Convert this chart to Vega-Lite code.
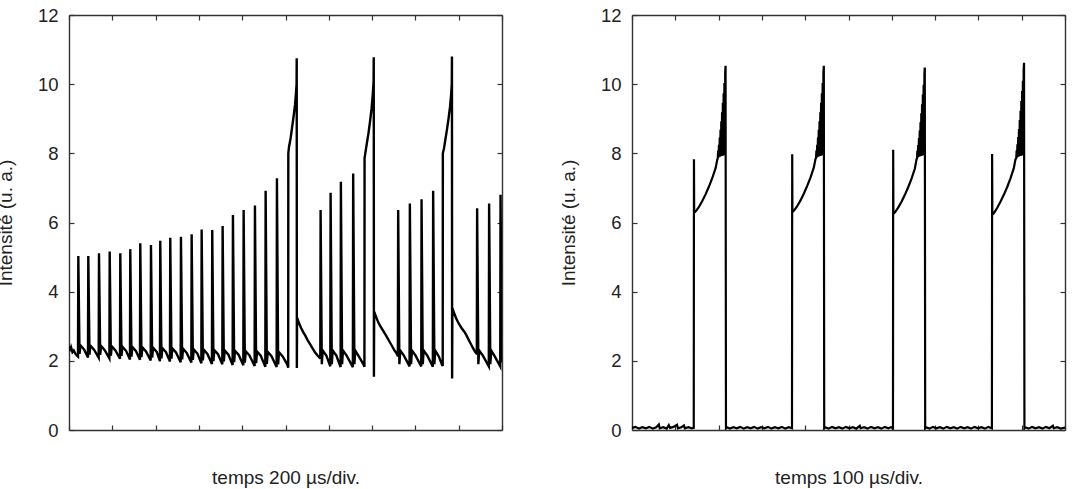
{
  "$schema": "https://vega.github.io/schema/vega-lite/v6.json",
  "background": "white",
  "padding": {"left": -4, "top": 6, "right": 4, "bottom": 0},
  "spacing": 56,
  "datasets": {
    "train": [
      {"t": 0, "v": 2.32}, {"t": 3, "v": 2.42}, {"t": 6, "v": 2.28}, {"t": 10, "v": 2.38}, {"t": 16, "v": 2.25}, {"t": 22, "v": 2.3}, {"t": 30, "v": 2.2}, {"t": 38, "v": 2.14},
      {"t": 41.6, "v": 2.12}, {"t": 43.0, "v": 5.03}, {"t": 48.6, "v": 2.2}, {"t": 52.6, "v": 2.45}, {"t": 69.6, "v": 2.33},
      {"t": 87.7, "v": 2.10}, {"t": 89.1, "v": 5.03}, {"t": 94.7, "v": 2.18}, {"t": 98.7, "v": 2.44}, {"t": 115.7, "v": 2.32},
      {"t": 137.1, "v": 2.09}, {"t": 138.5, "v": 5.11}, {"t": 144.1, "v": 2.17}, {"t": 148.1, "v": 2.43}, {"t": 165.1, "v": 2.31},
      {"t": 186.5, "v": 2.07}, {"t": 187.9, "v": 5.16}, {"t": 193.5, "v": 2.15}, {"t": 197.5, "v": 2.42}, {"t": 214.5, "v": 2.30},
      {"t": 235.5, "v": 2.06}, {"t": 236.9, "v": 5.11}, {"t": 242.5, "v": 2.14}, {"t": 246.5, "v": 2.41}, {"t": 263.5, "v": 2.29},
      {"t": 281.6, "v": 2.04}, {"t": 283.0, "v": 5.23}, {"t": 288.6, "v": 2.12}, {"t": 292.6, "v": 2.40}, {"t": 309.6, "v": 2.28},
      {"t": 327.8, "v": 2.03}, {"t": 329.2, "v": 5.40}, {"t": 334.8, "v": 2.11}, {"t": 338.8, "v": 2.39}, {"t": 355.8, "v": 2.27},
      {"t": 377.2, "v": 2.01}, {"t": 378.6, "v": 5.35}, {"t": 384.2, "v": 2.09}, {"t": 388.2, "v": 2.38}, {"t": 405.2, "v": 2.26},
      {"t": 420.1, "v": 1.99}, {"t": 421.5, "v": 5.47}, {"t": 427.1, "v": 2.07}, {"t": 431.1, "v": 2.37}, {"t": 448.1, "v": 2.25},
      {"t": 466.3, "v": 1.98}, {"t": 467.7, "v": 5.56}, {"t": 473.3, "v": 2.06}, {"t": 477.3, "v": 2.36}, {"t": 494.3, "v": 2.24},
      {"t": 515.7, "v": 1.96}, {"t": 517.1, "v": 5.59}, {"t": 522.7, "v": 2.04}, {"t": 526.7, "v": 2.35}, {"t": 543.7, "v": 2.23},
      {"t": 565.1, "v": 1.95}, {"t": 566.5, "v": 5.66}, {"t": 572.1, "v": 2.03}, {"t": 576.1, "v": 2.33}, {"t": 593.1, "v": 2.21},
      {"t": 611.3, "v": 1.93}, {"t": 612.7, "v": 5.80}, {"t": 618.3, "v": 2.01}, {"t": 622.3, "v": 2.32}, {"t": 639.3, "v": 2.20},
      {"t": 660.2, "v": 1.91}, {"t": 661.6, "v": 5.78}, {"t": 667.2, "v": 1.99}, {"t": 671.2, "v": 2.31}, {"t": 688.2, "v": 2.19},
      {"t": 708.2, "v": 1.90}, {"t": 709.6, "v": 5.90}, {"t": 715.2, "v": 1.98}, {"t": 719.2, "v": 2.30}, {"t": 736.2, "v": 2.18},
      {"t": 755.8, "v": 1.88}, {"t": 757.2, "v": 6.22}, {"t": 762.8, "v": 1.96}, {"t": 766.8, "v": 2.29}, {"t": 783.8, "v": 2.17},
      {"t": 805.2, "v": 1.87}, {"t": 806.6, "v": 6.36}, {"t": 812.2, "v": 1.95}, {"t": 816.2, "v": 2.28}, {"t": 833.2, "v": 2.16},
      {"t": 857.4, "v": 1.85}, {"t": 858.8, "v": 6.49}, {"t": 864.4, "v": 1.93}, {"t": 868.4, "v": 2.27}, {"t": 885.4, "v": 2.15},
      {"t": 906.8, "v": 1.83}, {"t": 908.2, "v": 6.92}, {"t": 913.8, "v": 1.91}, {"t": 917.8, "v": 2.26}, {"t": 934.8, "v": 2.14},
      {"t": 959.0, "v": 1.82}, {"t": 960.4, "v": 7.28}, {"t": 966.0, "v": 1.90}, {"t": 970.0, "v": 2.25}, {"t": 987.0, "v": 2.13},
      {"t": 1008.0, "v": 1.9}, {"t": 1012.5, "v": 1.8}, {"t": 1013.0, "v": 8.0}, {"t": 1016.3, "v": 8.19}, {"t": 1024.0, "v": 8.45}, {"t": 1031.5, "v": 8.8}, {"t": 1038.0, "v": 9.1}, {"t": 1044.0, "v": 9.4}, {"t": 1048.5, "v": 9.75}, {"t": 1051.2, "v": 10.0}, {"t": 1051.8, "v": 10.75}, {"t": 1052.4, "v": 1.79}, {"t": 1053.4, "v": 3.25},
      {"t": 1062, "v": 3.1}, {"t": 1072, "v": 2.95}, {"t": 1082, "v": 2.83}, {"t": 1092, "v": 2.72}, {"t": 1102, "v": 2.6}, {"t": 1112, "v": 2.5}, {"t": 1123, "v": 2.38}, {"t": 1136, "v": 2.25}, {"t": 1150, "v": 2.14}, {"t": 1159.5, "v": 2.08},
      {"t": 1160.7, "v": 2.06}, {"t": 1162.1, "v": 6.36}, {"t": 1167.7, "v": 1.9}, {"t": 1171.7, "v": 2.3}, {"t": 1188.7, "v": 2.15},
      {"t": 1206.9, "v": 1.84}, {"t": 1208.3, "v": 6.86}, {"t": 1213.9, "v": 1.9}, {"t": 1217.9, "v": 2.3}, {"t": 1234.9, "v": 2.15},
      {"t": 1254.4, "v": 1.82}, {"t": 1255.8, "v": 7.18}, {"t": 1261.4, "v": 1.9}, {"t": 1265.4, "v": 2.3}, {"t": 1282.4, "v": 2.15},
      {"t": 1311.2, "v": 1.82}, {"t": 1312.6, "v": 7.42}, {"t": 1318.2, "v": 1.9}, {"t": 1322.2, "v": 2.3}, {"t": 1339.2, "v": 2.12},
      {"t": 1360.0, "v": 1.9}, {"t": 1364.6, "v": 1.83}, {"t": 1365.2, "v": 7.86}, {"t": 1369.0, "v": 8.02}, {"t": 1376.0, "v": 8.3}, {"t": 1383.7, "v": 8.6}, {"t": 1391.0, "v": 8.95}, {"t": 1397.6, "v": 9.3}, {"t": 1403.0, "v": 9.7}, {"t": 1406.8, "v": 10.05}, {"t": 1407.6, "v": 10.78}, {"t": 1408.4, "v": 1.54}, {"t": 1409.6, "v": 3.42},
      {"t": 1418, "v": 3.28}, {"t": 1428, "v": 3.12}, {"t": 1438, "v": 3.0}, {"t": 1450, "v": 2.88}, {"t": 1465.4, "v": 2.72}, {"t": 1478, "v": 2.58}, {"t": 1490, "v": 2.45}, {"t": 1502, "v": 2.32}, {"t": 1512, "v": 2.22}, {"t": 1518.4, "v": 2.15},
      {"t": 1519.0, "v": 2.12}, {"t": 1520.4, "v": 6.36}, {"t": 1526.0, "v": 1.9}, {"t": 1530.0, "v": 2.3}, {"t": 1547.0, "v": 2.15},
      {"t": 1573.0, "v": 1.84}, {"t": 1574.4, "v": 6.55}, {"t": 1580.0, "v": 1.9}, {"t": 1584.0, "v": 2.3}, {"t": 1601.0, "v": 2.15},
      {"t": 1627.0, "v": 1.84}, {"t": 1628.4, "v": 6.67}, {"t": 1634.0, "v": 1.9}, {"t": 1638.0, "v": 2.3}, {"t": 1655.0, "v": 2.15},
      {"t": 1680.6, "v": 1.83}, {"t": 1682.0, "v": 6.92}, {"t": 1687.6, "v": 1.9}, {"t": 1691.6, "v": 2.3}, {"t": 1708.6, "v": 2.12},
      {"t": 1722.0, "v": 1.9}, {"t": 1726.2, "v": 1.85}, {"t": 1726.8, "v": 8.0}, {"t": 1732.3, "v": 8.15}, {"t": 1739.0, "v": 8.42}, {"t": 1746.1, "v": 8.7}, {"t": 1753.0, "v": 9.0}, {"t": 1760.0, "v": 9.35}, {"t": 1765.0, "v": 9.7}, {"t": 1768.0, "v": 10.0}, {"t": 1768.8, "v": 10.8}, {"t": 1769.6, "v": 1.49}, {"t": 1770.8, "v": 3.52},
      {"t": 1780, "v": 3.36}, {"t": 1790, "v": 3.2}, {"t": 1800, "v": 3.08}, {"t": 1813, "v": 2.95}, {"t": 1825, "v": 2.85}, {"t": 1834.8, "v": 2.75}, {"t": 1845, "v": 2.62}, {"t": 1855, "v": 2.5}, {"t": 1865, "v": 2.38}, {"t": 1875, "v": 2.27}, {"t": 1883.0, "v": 2.2},
      {"t": 1883.7, "v": 2.18}, {"t": 1885.1, "v": 6.41}, {"t": 1890.7, "v": 1.9}, {"t": 1894.7, "v": 2.3}, {"t": 1911.7, "v": 2.15},
      {"t": 1939.1, "v": 1.84}, {"t": 1940.5, "v": 6.55}, {"t": 1946.1, "v": 1.9}, {"t": 1950.1, "v": 2.3}, {"t": 1967.1, "v": 2.12},
      {"t": 1991.8, "v": 1.84}, {"t": 1993.2, "v": 6.80}, {"t": 1998.8, "v": 1.95}, {"t": 2000, "v": 2.05}
    ],
    "pulses": [
      {"t": 0, "v": 0.06}, {"t": 8, "v": 0.09}, {"t": 16, "v": 0.04}, {"t": 24, "v": 0.08}, {"t": 32, "v": 0.05}, {"t": 40, "v": 0.09}, {"t": 48, "v": 0.04}, {"t": 56, "v": 0.08}, {"t": 62, "v": 0.16}, {"t": 64, "v": 0.05}, {"t": 72, "v": 0.08}, {"t": 80, "v": 0.04}, {"t": 85, "v": 0.14}, {"t": 88, "v": 0.06}, {"t": 96, "v": 0.09}, {"t": 104, "v": 0.15}, {"t": 106, "v": 0.05}, {"t": 114, "v": 0.08}, {"t": 120, "v": 0.13}, {"t": 122, "v": 0.05}, {"t": 130, "v": 0.08}, {"t": 138, "v": 0.05}, {"t": 142.6, "v": 0.06},
      {"t": 143.1, "v": 7.83}, {"t": 143.6, "v": 6.28}, {"t": 147.7, "v": 6.33}, {"t": 154.6, "v": 6.45}, {"t": 162.3, "v": 6.62}, {"t": 170.1, "v": 6.82}, {"t": 177.7, "v": 7.04}, {"t": 185.3, "v": 7.28}, {"t": 193.2, "v": 7.58}, {"t": 196.9, "v": 7.82},
      {"t": 198.1, "v": 7.86}, {"t": 199.0, "v": 8.08}, {"t": 199.9, "v": 7.88}, {"t": 200.8, "v": 8.25}, {"t": 201.7, "v": 7.9}, {"t": 202.6, "v": 8.46}, {"t": 203.5, "v": 7.9}, {"t": 204.4, "v": 8.68}, {"t": 205.3, "v": 7.92}, {"t": 206.2, "v": 8.93}, {"t": 207.1, "v": 7.92}, {"t": 208.0, "v": 9.19}, {"t": 208.9, "v": 7.93}, {"t": 209.8, "v": 9.46}, {"t": 210.7, "v": 7.94}, {"t": 211.6, "v": 9.74}, {"t": 212.5, "v": 7.95}, {"t": 213.4, "v": 10.03}, {"t": 214.3, "v": 7.95}, {"t": 215.2, "v": 10.34}, {"t": 216.1, "v": 10.53}, {"t": 217.0, "v": 0.05},
      {"t": 219, "v": 0.08}, {"t": 226, "v": 0.04}, {"t": 234, "v": 0.08}, {"t": 242, "v": 0.05}, {"t": 250, "v": 0.09}, {"t": 258, "v": 0.04}, {"t": 266, "v": 0.08}, {"t": 274, "v": 0.05}, {"t": 282, "v": 0.09}, {"t": 290, "v": 0.04}, {"t": 298, "v": 0.08}, {"t": 306, "v": 0.05}, {"t": 314, "v": 0.09}, {"t": 322, "v": 0.04}, {"t": 330, "v": 0.08}, {"t": 338, "v": 0.05}, {"t": 346, "v": 0.09}, {"t": 354, "v": 0.04}, {"t": 362, "v": 0.08}, {"t": 369.5, "v": 0.05},
      {"t": 370.0, "v": 7.97}, {"t": 370.5, "v": 6.3}, {"t": 374.6, "v": 6.35}, {"t": 381.5, "v": 6.47}, {"t": 389.2, "v": 6.64}, {"t": 397.0, "v": 6.84}, {"t": 404.6, "v": 7.06}, {"t": 412.2, "v": 7.3}, {"t": 420.1, "v": 7.6}, {"t": 423.8, "v": 7.84},
      {"t": 425.0, "v": 7.86}, {"t": 425.9, "v": 8.08}, {"t": 426.8, "v": 7.88}, {"t": 427.7, "v": 8.25}, {"t": 428.6, "v": 7.9}, {"t": 429.5, "v": 8.46}, {"t": 430.4, "v": 7.9}, {"t": 431.3, "v": 8.68}, {"t": 432.2, "v": 7.92}, {"t": 433.1, "v": 8.93}, {"t": 434.0, "v": 7.92}, {"t": 434.9, "v": 9.19}, {"t": 435.8, "v": 7.93}, {"t": 436.7, "v": 9.46}, {"t": 437.6, "v": 7.94}, {"t": 438.5, "v": 9.74}, {"t": 439.4, "v": 7.95}, {"t": 440.3, "v": 10.03}, {"t": 441.2, "v": 7.95}, {"t": 442.1, "v": 10.34}, {"t": 443.0, "v": 10.53}, {"t": 443.9, "v": 0.05},
      {"t": 446, "v": 0.08}, {"t": 454, "v": 0.04}, {"t": 462, "v": 0.09}, {"t": 470, "v": 0.05}, {"t": 478, "v": 0.08}, {"t": 486, "v": 0.04}, {"t": 494, "v": 0.09}, {"t": 502, "v": 0.05}, {"t": 510, "v": 0.08}, {"t": 518, "v": 0.04}, {"t": 526, "v": 0.12}, {"t": 528, "v": 0.05}, {"t": 536, "v": 0.08}, {"t": 544, "v": 0.04}, {"t": 552, "v": 0.09}, {"t": 560, "v": 0.05}, {"t": 568, "v": 0.08}, {"t": 576, "v": 0.04}, {"t": 584, "v": 0.09}, {"t": 592, "v": 0.05}, {"t": 598, "v": 0.08}, {"t": 602.7, "v": 0.05},
      {"t": 603.2, "v": 8.10}, {"t": 603.7, "v": 6.25}, {"t": 607.8, "v": 6.3}, {"t": 614.7, "v": 6.43}, {"t": 622.4, "v": 6.6}, {"t": 630.2, "v": 6.8}, {"t": 637.8, "v": 7.02}, {"t": 645.4, "v": 7.26}, {"t": 653.3, "v": 7.56}, {"t": 657.0, "v": 7.82},
      {"t": 658.2, "v": 7.86}, {"t": 659.1, "v": 8.08}, {"t": 660.0, "v": 7.88}, {"t": 660.9, "v": 8.24}, {"t": 661.8, "v": 7.9}, {"t": 662.7, "v": 8.44}, {"t": 663.6, "v": 7.9}, {"t": 664.5, "v": 8.66}, {"t": 665.4, "v": 7.92}, {"t": 666.3, "v": 8.9}, {"t": 667.2, "v": 7.92}, {"t": 668.1, "v": 9.16}, {"t": 669.0, "v": 7.93}, {"t": 669.9, "v": 9.42}, {"t": 670.8, "v": 7.94}, {"t": 671.7, "v": 9.7}, {"t": 672.6, "v": 7.95}, {"t": 673.5, "v": 9.98}, {"t": 674.4, "v": 7.95}, {"t": 675.3, "v": 10.3}, {"t": 676.2, "v": 10.48}, {"t": 677.1, "v": 0.05},
      {"t": 679, "v": 0.08}, {"t": 687, "v": 0.04}, {"t": 695, "v": 0.09}, {"t": 703, "v": 0.05}, {"t": 711, "v": 0.08}, {"t": 719, "v": 0.04}, {"t": 727, "v": 0.09}, {"t": 735, "v": 0.05}, {"t": 743, "v": 0.08}, {"t": 751, "v": 0.04}, {"t": 759, "v": 0.09}, {"t": 767, "v": 0.05}, {"t": 775, "v": 0.08}, {"t": 783, "v": 0.04}, {"t": 791, "v": 0.09}, {"t": 799, "v": 0.05}, {"t": 807, "v": 0.08}, {"t": 815, "v": 0.04}, {"t": 823, "v": 0.09}, {"t": 831.2, "v": 0.05},
      {"t": 831.7, "v": 7.98}, {"t": 832.2, "v": 6.22}, {"t": 836.3, "v": 6.28}, {"t": 843.2, "v": 6.42}, {"t": 850.9, "v": 6.6}, {"t": 858.7, "v": 6.8}, {"t": 866.3, "v": 7.02}, {"t": 873.9, "v": 7.27}, {"t": 881.8, "v": 7.57}, {"t": 885.5, "v": 7.82},
      {"t": 887.4, "v": 7.86}, {"t": 888.3, "v": 8.08}, {"t": 889.2, "v": 7.88}, {"t": 890.1, "v": 8.26}, {"t": 891.0, "v": 7.9}, {"t": 891.9, "v": 8.47}, {"t": 892.8, "v": 7.9}, {"t": 893.7, "v": 8.7}, {"t": 894.6, "v": 7.92}, {"t": 895.5, "v": 8.96}, {"t": 896.4, "v": 7.92}, {"t": 897.3, "v": 9.23}, {"t": 898.2, "v": 7.93}, {"t": 899.1, "v": 9.51}, {"t": 900.0, "v": 7.94}, {"t": 900.9, "v": 9.8}, {"t": 901.8, "v": 7.95}, {"t": 902.7, "v": 10.1}, {"t": 903.6, "v": 7.95}, {"t": 904.5, "v": 10.42}, {"t": 905.4, "v": 10.62}, {"t": 906.3, "v": 0.05},
      {"t": 908, "v": 0.08}, {"t": 916, "v": 0.04}, {"t": 924, "v": 0.09}, {"t": 932, "v": 0.05}, {"t": 940, "v": 0.08}, {"t": 948, "v": 0.04}, {"t": 956, "v": 0.09}, {"t": 964, "v": 0.05}, {"t": 972, "v": 0.12}, {"t": 974, "v": 0.05}, {"t": 982, "v": 0.08}, {"t": 990, "v": 0.04}, {"t": 1000, "v": 0.07}
    ]
  },
  "hconcat": [
    {
      "width": 433,
      "height": 415,
      "data": {"name": "train"},
      "layer": [
        {
          "mark": {"type": "line", "color": "#000000", "strokeWidth": 2.4, "clip": true},
          "encoding": {
            "x": {"field": "t", "type": "quantitative", "scale": {"domain": [0, 2000], "nice": false, "zero": false},
                  "axis": {"orient": "bottom", "values": [0, 200, 400, 600, 800, 1000, 1200, 1400, 1600, 1800, 2000], "labels": false, "title": "temps 200 µs/div."}},
            "y": {"field": "v", "type": "quantitative", "scale": {"domain": [0, 12], "nice": false},
                  "axis": {"orient": "left", "values": [0, 2, 4, 6, 8, 10, 12], "title": "Intensité (u. a.)"}},
            "order": {"value": null}
          }
        },
        {
          "mark": {"type": "line", "opacity": 0},
          "encoding": {
            "x": {"field": "t", "type": "quantitative",
                  "axis": {"orient": "top", "values": [0, 200, 400, 600, 800, 1000, 1200, 1400, 1600, 1800, 2000], "labels": false, "title": null}},
            "y": {"field": "v", "type": "quantitative",
                  "axis": {"orient": "right", "values": [0, 2, 4, 6, 8, 10, 12], "labels": false, "title": null}},
            "order": {"value": null}
          }
        }
      ],
      "resolve": {"axis": {"x": "independent", "y": "independent"}}
    },
    {
      "width": 433,
      "height": 415,
      "data": {"name": "pulses"},
      "layer": [
        {
          "mark": {"type": "line", "color": "#000000", "strokeWidth": 2.2, "clip": true},
          "encoding": {
            "x": {"field": "t", "type": "quantitative", "scale": {"domain": [0, 1000], "nice": false, "zero": false},
                  "axis": {"orient": "bottom", "values": [0, 100, 200, 300, 400, 500, 600, 700, 800, 900, 1000], "labels": false, "title": "temps 100 µs/div."}},
            "y": {"field": "v", "type": "quantitative", "scale": {"domain": [0, 12], "nice": false},
                  "axis": {"orient": "left", "values": [0, 2, 4, 6, 8, 10, 12], "title": "Intensité (u. a.)"}},
            "order": {"value": null}
          }
        },
        {
          "mark": {"type": "line", "opacity": 0},
          "encoding": {
            "x": {"field": "t", "type": "quantitative",
                  "axis": {"orient": "top", "values": [0, 100, 200, 300, 400, 500, 600, 700, 800, 900, 1000], "labels": false, "title": null}},
            "y": {"field": "v", "type": "quantitative",
                  "axis": {"orient": "right", "values": [0, 2, 4, 6, 8, 10, 12], "labels": false, "title": null}},
            "order": {"value": null}
          }
        }
      ],
      "resolve": {"axis": {"x": "independent", "y": "independent"}}
    }
  ],
  "config": {
    "view": {"stroke": null},
    "axis": {
      "grid": false,
      "domainColor": "#333333",
      "domainWidth": 1.4,
      "tickColor": "#333333",
      "tickWidth": 1.2,
      "tickSize": -5,
      "labelFont": "Liberation Sans",
      "labelFontSize": 18.5,
      "labelColor": "#222222",
      "labelPadding": 16,
      "titleFont": "Liberation Sans",
      "titleFontSize": 19,
      "titleFontWeight": "normal",
      "titleColor": "#222222"
    },
    "axisX": {"titlePadding": 38},
    "axisY": {"titlePadding": 22}
  }
}
